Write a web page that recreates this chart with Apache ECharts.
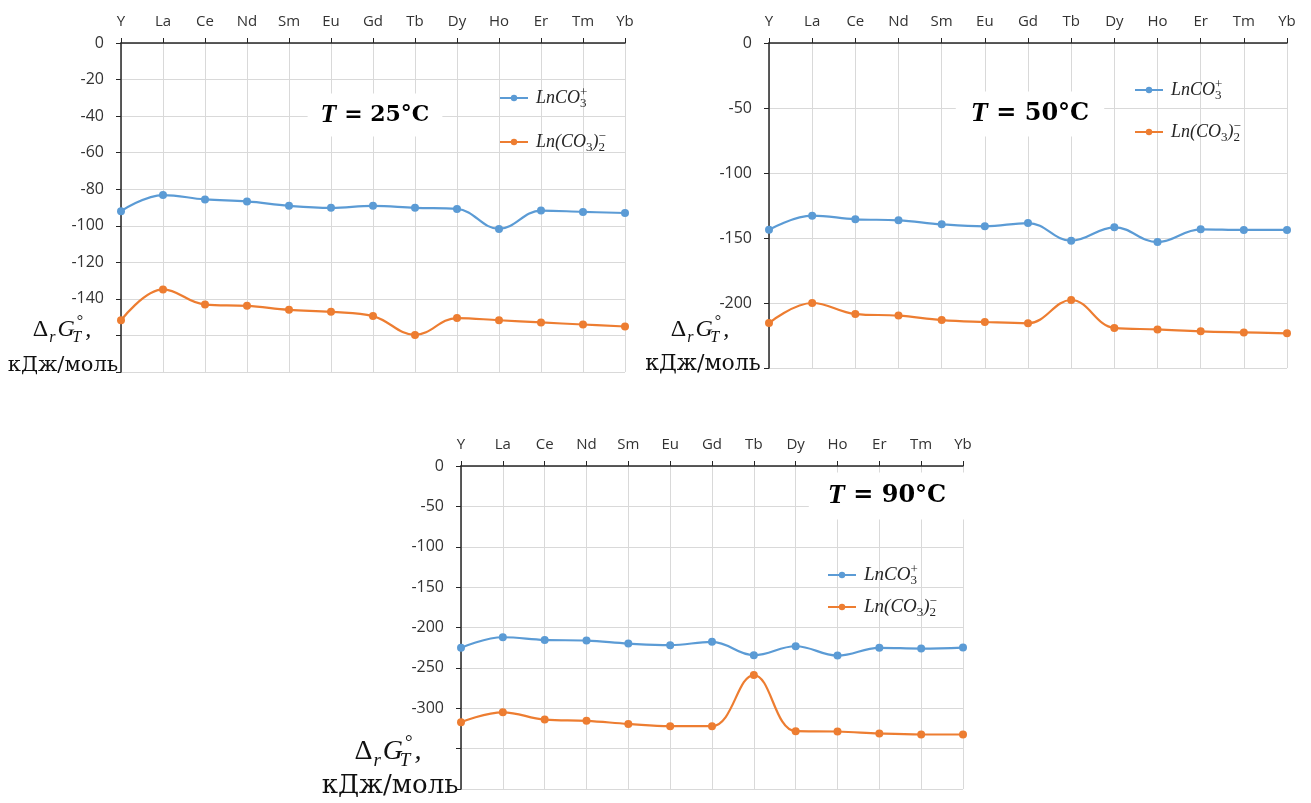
<!DOCTYPE html>
<html><head><meta charset="utf-8">
<script src="https://cdn.jsdelivr.net/npm/echarts/dist/echarts.min.js"></script>
<style>html,body{margin:0;padding:0;background:#fff}#c{width:1311px;height:803px}</style>
</head><body><div id="c"></div>
<script>
// ---- data ----
const categories = ['Y','La','Ce','Nd','Sm','Eu','Gd','Tb','Dy','Ho','Er','Tm','Yb'];
const seriesNames = ['LnCO3+', 'Ln(CO3)2-'];
const plus25  = [-92.0,-83.2,-85.6,-86.7,-89.1,-90.2,-89.1,-90.2,-90.8,-101.7,-91.7,-92.4,-93.0];
const minus25 = [-151.7,-134.8,-143.1,-143.8,-146.0,-147.1,-149.4,-159.7,-150.5,-151.7,-152.9,-154.0,-155.1];
const plus50  = [-143.6,-132.8,-135.6,-136.4,-139.5,-141.0,-138.5,-152.1,-141.8,-153.1,-143.3,-143.8,-143.8];
const minus50 = [-215.4,-200.0,-208.5,-209.7,-213.1,-214.6,-215.6,-197.7,-219.2,-220.3,-221.8,-222.6,-223.3];
const plus90  = [-225.2,-212.1,-215.4,-216.2,-219.9,-221.9,-217.8,-234.3,-223.2,-234.7,-225.2,-226.1,-224.8];
const minus90 = [-317.3,-305.0,-314.0,-315.6,-319.4,-322.2,-322.2,-258.9,-328.4,-328.8,-331.3,-332.5,-332.5];
const temperatures = ['25', '50', '90'];
// y axis: min, interval, lowest labelled tick
const yMin = [-180, -250, -400];
const yInterval = [20, 50, 50];
const yLowestLabel = [-140, -200, -300];

// ---- layout / style ----
const BLUE = '#5B9BD5', ORANGE = '#ED7D31';
const grids = [
  {left:121, top:43, width:504, height:329},
  {left:769, top:43, width:518, height:325},
  {left:461, top:466, width:502, height:323}
];
const seriesData = [[plus25, minus25],[plus50, minus50],[plus90, minus90]];
const legendPos = [
  {left:499, top:86, gap:20, fs:18},
  {left:1134, top:78, gap:18, fs:18},
  {left:827, top:563, gap:8, fs:19}
];
const tBox = [
  {x:375, y:115, fs:23, pad:[8,13]},
  {x:1030, y:114, fs:25, pad:[8,15]},
  {x:887, y:496, fs:25, pad:[9,19]}
];
const axTitle = [
  {x:62, x2:63, y1:330, y2:366, f1:24, f2:21},
  {x:700, x2:703, y1:330, y2:364, f1:24, f2:22},
  {x:388, x2:390, y1:752, y2:786, f1:28, f2:26}
];

function legendRich(fs) {
  const s = Math.round(fs * 0.7);
  return {
    m: {fontFamily:'Liberation Serif', fontStyle:'italic', fontSize:fs, lineHeight:24, color:'#262626'},
    b: {fontFamily:'Liberation Serif', fontSize:s, lineHeight:s, verticalAlign:'bottom', color:'#262626'},
    b0:{fontFamily:'Liberation Serif', fontSize:s, lineHeight:s, verticalAlign:'bottom', width:0, color:'#262626'},
    p: {fontFamily:'Liberation Serif', fontSize:s, lineHeight:s, verticalAlign:'top', color:'#262626'}
  };
}
const legendText = {
  'LnCO3+': '{m|LnCO}{b0|3}{p|+}',
  'Ln(CO3)2-': '{m|Ln(CO}{b|3}{m|)}{b0|2}{p|\u2212}'
};

const option = {
  backgroundColor:'#fff',
  animation:false,
  grid: grids.map(g => Object.assign({outerBoundsMode:'none', containLabel:false}, g)),
  xAxis: grids.map((g,i) => ({
    type:'category', gridIndex:i, position:'top', boundaryGap:false, data:categories,
    axisLine:{lineStyle:{color:'#262626', width:1.5}},
    axisTick:{show:true, interval:0, length:5, lineStyle:{color:'#262626'}},
    axisLabel:{interval:0, margin:14, fontFamily:'Open Sans', fontSize:15, color:'#333'},
    splitLine:{show:true, interval:0, lineStyle:{color:'#D9D9D9', width:1}}
  })),
  yAxis: grids.map((g,i) => ({
    type:'value', gridIndex:i, min:yMin[i], max:0, interval:yInterval[i],
    axisLine:{show:true, onZero:false, lineStyle:{color:'#262626', width:1.5}},
    axisTick:{show:true, length:5, lineStyle:{color:'#262626'}},
    axisLabel:{margin:17, fontFamily:'Open Sans', fontSize:16, color:'#333',
      formatter: v => (v < yLowestLabel[i] ? '' : String(v))},
    splitLine:{show:true, lineStyle:{color:'#D9D9D9', width:1}}
  })),
  legend: legendPos.map((p,i) => ({
    orient:'vertical', left:p.left, top:p.top, itemGap:p.gap, padding:0,
    itemWidth:28, itemHeight:8, data:seriesNames,
    formatter: n => legendText[n],
    textStyle:{padding:[0,0,0,3], rich:legendRich(p.fs)}
  })),
  series: [],
  graphic: []
};

seriesData.forEach((pair, i) => {
  pair.forEach((d, k) => {
    option.series.push({
      type:'line', name:seriesNames[k], xAxisIndex:i, yAxisIndex:i, data:d,
      smooth:0.4, symbol:'circle', symbolSize:8,
      lineStyle:{width:2.2, color:k ? ORANGE : BLUE},
      itemStyle:{color:k ? ORANGE : BLUE}
    });
  });
});

temperatures.forEach((t, i) => {
  const b = tBox[i];
  option.graphic.push({
    type:'text', x:b.x, y:b.y, z:50,
    style:{
      text:'{t|T}{n| = ' + t + '°C}',
      align:'center', verticalAlign:'middle',
      backgroundColor:'#fff', padding:b.pad,
      rich:{
        t:{fontFamily:'Liberation Serif', fontStyle:'italic', fontWeight:'bold', fontSize:b.fs+3, fill:'#000', lineHeight:b.fs+4},
        n:{fontFamily:'DejaVu Serif', fontWeight:'bold', fontSize:b.fs-1, fill:'#000', lineHeight:b.fs+4}
      }
    }
  });
});

axTitle.forEach(a => {
  const s = Math.round(a.f1 * 0.68);
  option.graphic.push({
    type:'text', x:a.x, y:a.y1, z:50,
    style:{
      text:'{d|\u0394}{r|r}{G|G}{t|T}{o|\u00b0}{g|,}',
      align:'center', verticalAlign:'middle',
      rich:{
        d:{fontFamily:'Liberation Serif', fontSize:a.f1, lineHeight:a.f1+8, fill:'#111'},
        G:{fontFamily:'Liberation Serif', fontStyle:'italic', fontSize:a.f1, lineHeight:a.f1+8, padding:[0,2,0,0], fill:'#111'},
        g:{fontFamily:'Liberation Serif', fontStyle:'italic', fontSize:a.f1, lineHeight:a.f1+8, fill:'#111'},
        r:{fontFamily:'Liberation Serif', fontStyle:'italic', fontSize:s, lineHeight:s, verticalAlign:'bottom', padding:[0,2,0,1], fill:'#111'},
        t:{fontFamily:'Liberation Serif', fontStyle:'italic', fontSize:s, lineHeight:s, verticalAlign:'bottom', width:0, fill:'#111'},
        o:{fontFamily:'Liberation Serif', fontSize:s, lineHeight:s, verticalAlign:'top', padding:[0,2,0,0], fill:'#111'}
      }
    }
  });
  option.graphic.push({
    type:'text', x:a.x2, y:a.y2, z:50,
    style:{text:'кДж/моль', align:'center', verticalAlign:'middle',
      fontFamily:'DejaVu Serif', fontSize:a.f2, fill:'#111'}
  });
});

const chart = echarts.init(document.getElementById('c'), null, {renderer:'canvas'});
chart.setOption(option);
</script>
</body></html>
